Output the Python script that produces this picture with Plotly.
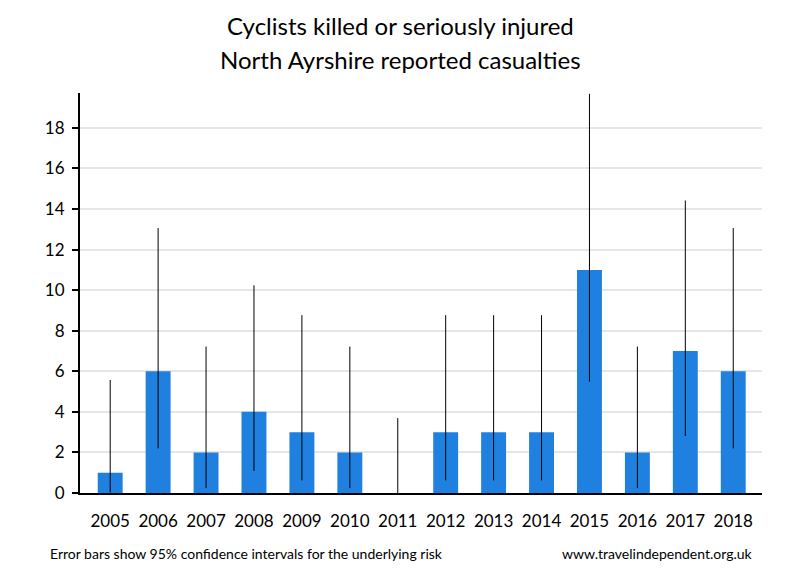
import plotly.graph_objects as go

years = ["2005", "2006", "2007", "2008", "2009", "2010", "2011",
         "2012", "2013", "2014", "2015", "2016", "2017", "2018"]
casualties = [1, 6, 2, 4, 3, 2, 0, 3, 3, 3, 11, 2, 7, 6]
ci_low = [0.03, 2.2, 0.24, 1.09, 0.62, 0.24, 0, 0.62, 0.62, 0.62, 5.49, 0.24, 2.81, 2.2]
ci_high = [5.57, 13.06, 7.22, 10.24, 8.77, 7.22, 3.69, 8.77, 8.77, 8.77, 19.68, 7.22, 14.42, 13.06]
title_lines = ["Cyclists killed or seriously injured", "North Ayrshire reported casualties"]

x_pos = list(range(len(years)))
err_plus = [h - v for h, v in zip(ci_high, casualties)]
err_minus = [v - l for v, l in zip(casualties, ci_low)]

FONT = "Lato"

fig = go.Figure()
fig.add_trace(go.Bar(
    x=x_pos, y=casualties, width=0.52,
    marker=dict(color="#1f80e0", line=dict(width=0)),
    error_y=dict(type="data", symmetric=False, array=err_plus, arrayminus=err_minus,
                 color="black", thickness=1, width=0),
    hoverinfo="skip",
))

annotations = [
    dict(text=title_lines[0], xref="paper", yref="paper", x=0.47, y=1.17,
         xanchor="center", yanchor="middle", showarrow=False,
         font=dict(family=FONT, size=24, color="black")),
    dict(text=title_lines[1], xref="paper", yref="paper", x=0.47, y=1.0825,
         xanchor="center", yanchor="middle", showarrow=False,
         font=dict(family=FONT, size=24, color="black")),
    dict(text="Error bars show 95% confidence intervals for the underlying risk",
         xref="paper", yref="paper", x=-0.047, y=-0.15, xanchor="left", yanchor="middle",
         showarrow=False, font=dict(family=FONT, size=14, color="black")),
    dict(text="www.travelindependent.org.uk",
         xref="paper", yref="paper", x=0.99, y=-0.15, xanchor="right", yanchor="middle",
         showarrow=False, font=dict(family=FONT, size=14, color="black")),
]

fig.update_layout(
    width=800, height=580,
    margin=dict(l=80, r=38, t=93, b=87),
    paper_bgcolor="white", plot_bgcolor="white",
    showlegend=False,
    font=dict(family=FONT, color="black"),
    xaxis=dict(tickvals=x_pos, ticktext=years, range=[-0.63, 13.6],
               showgrid=False, zeroline=False, showline=True, linecolor="black", linewidth=2,
               ticks="", tickfont=dict(size=17), ticklabelstandoff=12, fixedrange=True),
    yaxis=dict(range=[0, 19.72], tickvals=list(range(0, 20, 2)),
               showgrid=True, gridcolor="#e6e6e6", gridwidth=2,
               zeroline=False, showline=True, linecolor="black", linewidth=2,
               ticks="outside", ticklen=6, tickwidth=2, tickcolor="black",
               tickfont=dict(size=17), ticklabelstandoff=4, fixedrange=True),
    annotations=annotations,
)

fig.write_html("out.html", config={"displayModeBar": False},
               post_script="document.body.style.margin='0';")
